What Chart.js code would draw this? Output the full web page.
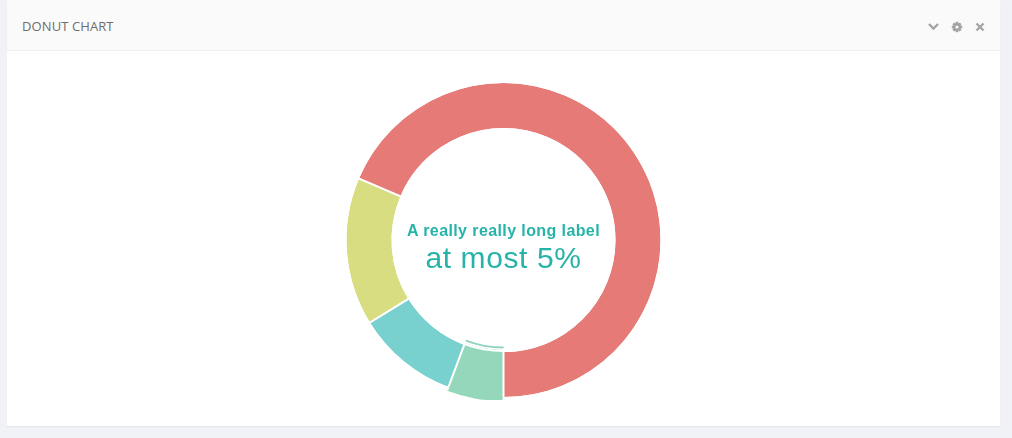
<!DOCTYPE html>
<html>
<head>
<meta charset="utf-8">
<script src="https://cdn.jsdelivr.net/npm/chart.js@4.4.0/dist/chart.umd.min.js"></script>
<style>
  html, body { margin:0; padding:0; background:#f1f2f7; width:1012px; height:438px; overflow:hidden; }
  .panel { position:absolute; left:7px; top:0; width:993px; height:426px; background:#ffffff; box-shadow:0 1px 1px rgba(0,0,0,0.05); }
  .head { position:absolute; left:0; top:0; width:993px; height:51px; background:#fafafa; border-bottom:1px solid #efefef; box-sizing:border-box; }
  .title { position:absolute; left:15px; top:17px; font-family:"Open Sans"; font-size:13px; line-height:18px; color:#6e6e6e; letter-spacing:0.1px; }
  .icons { position:absolute; left:0; top:0; }
  #wrap { position:absolute; left:7px; top:80px; width:993px; height:320px; }
  .center1, .center2 { position:absolute; left:7px; width:993px; text-align:center; color:#26b3a8; font-family:"Liberation Sans", Arial, sans-serif; white-space:nowrap; }
  .center1 { top:222px; font-size:16px; line-height:17px; font-weight:bold; letter-spacing:0.4px; }
  .center2 { top:241.5px; font-size:30px; line-height:32px; letter-spacing:0.6px; }
</style>
</head>
<body>
<div class="panel">
  <div class="head">
    <div class="title">DONUT CHART</div>
  </div>
</div>
<svg class="icons" width="1012" height="60" viewBox="0 0 1012 60">
  <polyline points="929,24 933.5,28.6 938,24" fill="none" stroke="#a3a3a3" stroke-width="2.3"/>
  <g fill="#a3a3a3" transform="translate(957,27)">
    <circle r="3.8"/>
    <rect x="-1.3" y="-5.2" width="2.6" height="10.4"/>
    <rect x="-1.3" y="-5.2" width="2.6" height="10.4" transform="rotate(45)"/>
    <rect x="-1.3" y="-5.2" width="2.6" height="10.4" transform="rotate(90)"/>
    <rect x="-1.3" y="-5.2" width="2.6" height="10.4" transform="rotate(135)"/>
    <circle r="1.6" fill="#fafafa"/>
  </g>
  <g stroke="#a3a3a3" stroke-width="2.3">
    <line x1="976.5" y1="23.5" x2="983.5" y2="30.5"/>
    <line x1="983.5" y1="23.5" x2="976.5" y2="30.5"/>
  </g>
</svg>
<div id="wrap"><canvas id="c"></canvas></div>
<div class="center1">A really really long label</div>
<div class="center2">at most 5%</div>
<script>
// ---- data ----
const categories = ['A really really long label', 'Label B', 'Label C', 'Label D'];
const values = [5.7, 10.5, 15.2, 68.6];
const colors = ['#95D7BB', '#79D1CF', '#D9DD81', '#E67A77'];
const highlightIndex = 0;

// ---- ring construction ----
const hiOnly = (c, other) => colors.map((col, i) => i === highlightIndex ? (c || col) : other);

const outerExt = { data: values, weight: 2, order: 0, borderWidth: 2,
  backgroundColor: hiOnly(null, 'transparent'), borderColor: hiOnly(null, '#ffffff') };
const mainRing = { data: values, weight: 47, order: 5, borderWidth: 2,
  backgroundColor: colors, borderColor: hiOnly(null, '#ffffff') };
const gapRing = { data: values, weight: 2.5, order: 0, borderWidth: 2,
  backgroundColor: 'transparent', borderColor: '#ffffff' };
const thinRing = { data: values, weight: 1.9, order: -1, borderWidth: 0,
  backgroundColor: hiOnly('#8ed2bf', 'transparent') };

new Chart(document.getElementById('c'), {
  type: 'doughnut',
  data: { labels: categories, datasets: [outerExt, mainRing, gapRing, thinRing] },
  options: {
    responsive: true,
    maintainAspectRatio: false,
    animation: false,
    events: [],
    rotation: 180,
    radius: 160,
    cutout: (106.6 / 160 * 100) + '%',
    layout: { padding: 0 },
    plugins: { legend: { display: false }, tooltip: { enabled: false } },
    elements: { arc: { hoverOffset: 0 } }
  }
});
</script>
</body>
</html>
